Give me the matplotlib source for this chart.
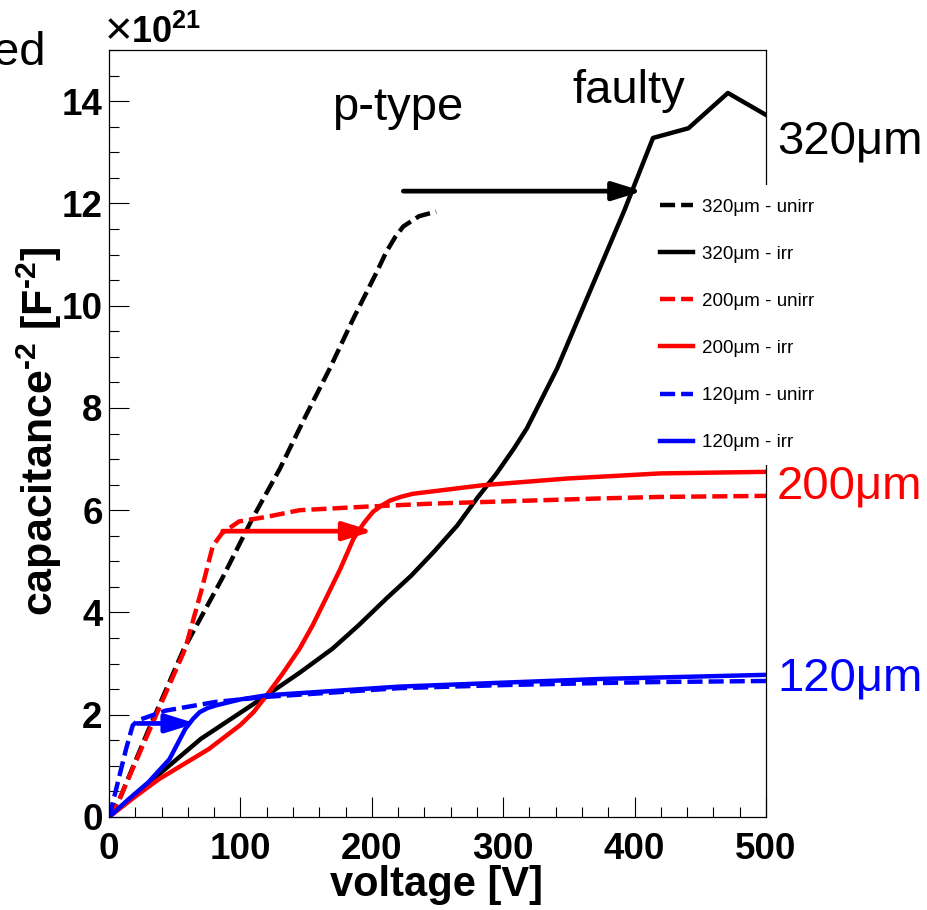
import matplotlib
matplotlib.use("Agg")
import matplotlib.pyplot as plt
from matplotlib.ticker import MultipleLocator

plt.rcParams["font.family"] = ["Liberation Sans", "DejaVu Sans"]
plt.rcParams["mathtext.fontset"] = "custom"
plt.rcParams["mathtext.rm"] = "Liberation Sans"
plt.rcParams["mathtext.bf"] = "Liberation Sans:bold"
plt.rcParams["mathtext.it"] = "Liberation Sans:italic"

# C^-2 curves, values in units of 1e21 F^-2
v_320_unirr = [0, 8, 30, 57, 86, 109, 130, 150, 168, 186, 204, 211, 218, 224, 236, 249]
c_320_unirr = [0, 0.35, 1.70, 3.29, 4.66, 5.83, 6.81, 7.86, 8.77, 9.75, 10.67, 11.05, 11.35, 11.55, 11.75, 11.84]

v_320_irr = [0, 30, 70, 120, 145, 170, 190, 211, 230, 247, 265, 280, 295, 308, 318, 341, 366, 392, 414, 441, 471, 500]
c_320_irr = [0, 0.66, 1.53, 2.38, 2.82, 3.29, 3.75, 4.27, 4.72, 5.18, 5.70, 6.23, 6.72, 7.2, 7.6, 8.77, 10.28, 11.85, 13.28, 13.47, 14.16, 13.73]

v_200_unirr = [0, 8, 30, 58, 70, 79, 86, 99, 120, 145, 196, 247, 323, 374, 420, 500]
c_200_unirr = [0, 0.35, 1.65, 3.29, 4.4, 5.3, 5.55, 5.78, 5.87, 6.0, 6.07, 6.13, 6.19, 6.23, 6.26, 6.28]

v_200_irr = [0, 20, 38, 76, 100, 110, 120, 132, 145, 155, 165, 176, 186, 194, 201, 208, 214, 222, 231, 285, 349, 420, 500]
c_200_irr = [0, 0.4, 0.74, 1.33, 1.8, 2.05, 2.38, 2.8, 3.29, 3.75, 4.27, 4.85, 5.44, 5.75, 5.97, 6.1, 6.19, 6.26, 6.32, 6.49, 6.62, 6.72, 6.75]

v_120_unirr = [0, 3, 8, 13, 18, 22, 43, 81, 120, 221, 300, 374, 420, 500]
c_120_unirr = [0, 0.29, 0.81, 1.33, 1.79, 1.89, 2.08, 2.25, 2.35, 2.52, 2.58, 2.62, 2.64, 2.66]

v_120_irr = [0, 15, 30, 46, 58, 64, 69, 75, 81, 100, 120, 221, 374, 500]
c_120_irr = [0, 0.35, 0.68, 1.13, 1.72, 1.92, 2.05, 2.13, 2.18, 2.3, 2.38, 2.55, 2.7, 2.78]

# depletion shift arrows: (start V, end V, level)
arrow_320 = (224, 406, 12.24)
arrow_200 = (86.5, 201, 5.59)
arrow_120 = (21.6, 66, 1.83)

legend_labels = ["320\u03bcm - unirr", "320\u03bcm - irr",
                 "200\u03bcm - unirr", "200\u03bcm - irr",
                 "120\u03bcm - unirr", "120\u03bcm - irr"]

HYPH = "\u2010"
ylabel_text = ("capacitance$^{\\mathbf{" + HYPH + "2}}$ [F$^{\\mathbf{" + HYPH + "2}}$]")

W, H = 928, 910
fig = plt.figure(figsize=(W / 100, H / 100), dpi=100)
ax = fig.add_axes([109 / W, 1 - 817 / H, 657 / W, 767 / H])

LW = 3.2
DASH = (0, (3.4, 1.35))

series = [
    (v_320_unirr, c_320_unirr, "black", DASH),
    (v_320_irr, c_320_irr, "black", "-"),
    (v_200_unirr, c_200_unirr, "#ff0000", DASH),
    (v_200_irr, c_200_irr, "#ff0000", "-"),
    (v_120_unirr, c_120_unirr, "#0000ff", DASH),
    (v_120_irr, c_120_irr, "#0000ff", "-"),
]
handles = []
for (v, c, col, ls), lab in zip(series, legend_labels):
    (ln,) = ax.plot(v, c, color=col, lw=LW, ls=ls, label=lab,
                    solid_joinstyle="round", dash_capstyle="butt")
    handles.append(ln)

for (x0, x1, yv), col in zip([arrow_320, arrow_200, arrow_120],
                             ["black", "#ff0000", "#0000ff"]):
    ax.annotate("", xy=(x1, yv), xytext=(x0, yv),
                arrowprops=dict(arrowstyle="-|>,head_length=0.9,head_width=0.28",
                                mutation_scale=20, lw=3.4, color=col,
                                shrinkA=0, shrinkB=0))

ax.set_xlim(0, 500)
ax.set_ylim(0, 15)
ax.xaxis.set_major_locator(MultipleLocator(100))
ax.xaxis.set_minor_locator(MultipleLocator(20))
ax.yaxis.set_major_locator(MultipleLocator(2))
ax.yaxis.set_minor_locator(MultipleLocator(0.5))
ax.tick_params(which="both", direction="in", top=False, right=False, width=0.8)
ax.tick_params(which="major", length=14.4)
ax.tick_params(which="minor", length=7.5)
ax.tick_params(axis="x", which="major", pad=10.5, labelsize=26.5)
ax.tick_params(axis="y", which="major", pad=4.5, labelsize=26.5)
for lbl in ax.get_xticklabels() + ax.get_yticklabels():
    lbl.set_fontweight("bold")
for sp in ax.spines.values():
    sp.set_linewidth(0.9)

ax.set_xlabel("voltage [V]", fontsize=30, fontweight="bold")
ax.xaxis.label.set_va("baseline")
ax.xaxis.set_label_coords((436.5 - 109) / 657, (817 - 896) / 767)
ax.set_ylabel(ylabel_text, fontsize=31, fontweight="bold")
ax.yaxis.set_label_coords((64 - 109) / 657, (817 - 431) / 767)

leg = ax.legend(handles=handles, loc="upper left",
                bbox_to_anchor=(647 / W, 1 - 185 / H), bbox_transform=fig.transFigure,
                fontsize=13.5, frameon=True, fancybox=False, framealpha=1,
                facecolor="white", edgecolor="none", borderpad=0.72,
                handlelength=1.75, handletextpad=0.45, labelspacing=1.6,
                borderaxespad=0)

ax.text(170, 13.63, "p-type", fontsize=34, ha="left", va="baseline")
ax.text(352.4, 13.96, "faulty", fontsize=34, ha="left", va="baseline")
for yv, col, txt in [(12.98, "black", "320\u03bcm"),
                     (6.23, "#ff0000", "200\u03bcm"),
                     (2.47, "#0000ff", "120\u03bcm")]:
    ax.text(508.4, yv, txt, fontsize=34, color=col, ha="left",
            va="baseline", clip_on=False, zorder=6)

# axis multiplier
fig.text(105 / W, 1 - 44 / H, "\u00d7", fontsize=34, ha="left", va="baseline")
fig.text(131 / W, 1 - 43 / H, "$\\mathbf{10^{21}}$", fontsize=26,
         ha="left", va="baseline")
fig.text(46 / W, 1 - 65 / H, "ed", fontsize=34, ha="right", va="baseline")

fig.savefig("out.png", dpi=100)
